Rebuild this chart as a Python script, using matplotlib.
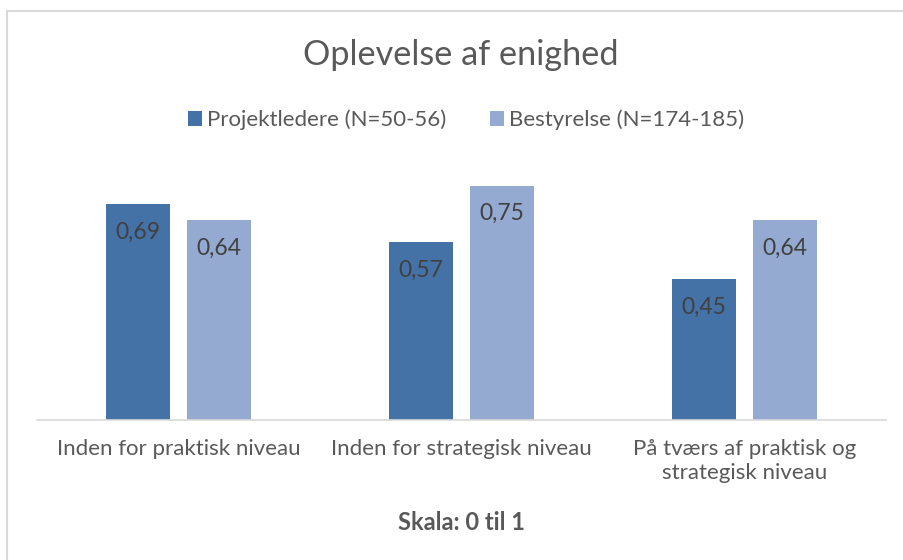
import matplotlib.pyplot as plt
from matplotlib.patches import Rectangle

categories = ['Inden for praktisk niveau', 'Inden for strategisk niveau',
              'På tværs af praktisk og\nstrategisk niveau']
projektledere = [0.69, 0.57, 0.45]
bestyrelse = [0.64, 0.75, 0.64]
series_names = ['Projektledere (N=50-56)', 'Bestyrelse (N=174-185)']

plt.rcParams['font.family'] = ['Lato', 'DejaVu Sans']
grey = '#595959'
dark = '#4472A6'
light = '#95AAD1'

fig = plt.figure(figsize=(9.04, 5.6), dpi=100)
# outer chart border like the Excel chart area
fig.patches.append(Rectangle((7 / 904, -0.1), 1.2, 1.1 - 11 / 560, transform=fig.transFigure,
                             fill=False, edgecolor='#D9D9D9', linewidth=1.5))

ax = fig.add_axes([37 / 904, 140 / 560, 849 / 904, 250 / 560])
x = list(range(len(categories)))
w = 0.226
off = 0.143
b1 = ax.bar([i - off for i in x], projektledere, w, color=dark, label=series_names[0])
b2 = ax.bar([i + off for i in x], bestyrelse, w, color=light, label=series_names[1])

for bars, vals in ((b1, projektledere), (b2, bestyrelse)):
    for r, v in zip(bars, vals):
        ax.annotate(('%.2f' % v).replace('.', ','), (r.get_x() + r.get_width() / 2, v),
                    xytext=(0, -28), textcoords='offset pixels', ha='center', va='center',
                    fontsize=16.5, color='#404040')

ax.set_xlim(-0.5, 2.5)
ax.set_ylim(0, 0.8)
ax.set_yticks([])
ax.set_xticks(x)
ax.set_xticklabels(categories, fontsize=16, color=grey, linespacing=1.25)
ax.tick_params(axis='x', length=0, pad=14)
for s in ['top', 'right', 'left']:
    ax.spines[s].set_visible(False)
ax.spines['bottom'].set_color('#D9D9D9')
ax.spines['bottom'].set_linewidth(1.2)

fig.text(461 / 904, 1 - 55 / 560, 'Oplevelse af enighed', ha='center', va='center',
         fontsize=24.7, color=grey)
fig.legend(loc='center', bbox_to_anchor=(466 / 904, 1 - 120 / 560), ncol=2, frameon=False,
           fontsize=16, labelcolor=grey, handlelength=0.63, handleheight=0.63,
           handletextpad=0.22, columnspacing=2.0)
fig.text(461 / 904, 1 - 522 / 560, 'Skala: 0 til 1', ha='center', va='center',
         fontsize=17, fontweight='bold', color=grey)

plt.savefig('out.png', dpi=100)
